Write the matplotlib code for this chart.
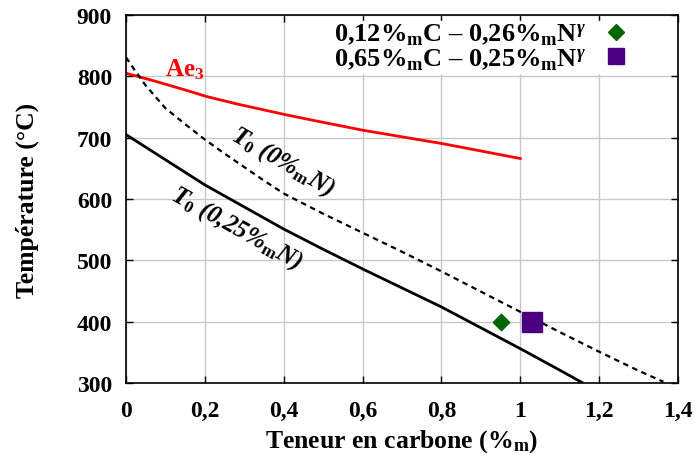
import matplotlib
matplotlib.use("Agg")
import matplotlib.pyplot as plt
from matplotlib.lines import Line2D

plt.rcParams['font.family'] = ['Liberation Serif', 'DejaVu Serif']
plt.rcParams['font.weight'] = 'bold'
plt.rcParams['mathtext.fontset'] = 'custom'
plt.rcParams['mathtext.rm'] = 'Liberation Serif:bold'
plt.rcParams['mathtext.it'] = 'Liberation Serif:bold:italic'
plt.rcParams['mathtext.bf'] = 'Liberation Serif:bold'

# Ae3 curve
ae3_x = [0.0, 0.069, 0.154, 0.205, 0.281, 0.408, 0.492, 0.602, 0.805, 1.0]
ae3_y = [805, 793, 777, 767, 755, 737, 726, 712, 690, 666]
# T0 (0 %N) dashed
t0a_x = [0.0, 0.02, 0.05, 0.1, 0.15, 0.2, 0.25, 0.3, 0.35, 0.4, 0.5, 0.6, 0.7, 0.8,
         0.9, 1.0, 1.1, 1.2, 1.3, 1.363]
t0a_y = [831, 812, 785, 748, 722, 697, 674, 652, 630, 609, 576, 545, 514, 482,
         449, 416, 383, 351, 320, 302]
# T0 (0.25 %N) solid
t0b_x = [0.0, 0.1, 0.2, 0.3, 0.4, 0.5, 0.6, 0.7, 0.8, 0.9, 1.0, 1.1, 1.156]
t0b_y = [705, 664, 623, 587, 551, 518, 486, 455, 424, 390, 356, 321, 301]

pts_x = [0.95, 1.03]
pts_y = [400, 400]
pts_labels = [r"0,12%$_{\mathrm{m}}$C – 0,26%$_{\mathrm{m}}$N$^{\gamma}$",
              r"0,65%$_{\mathrm{m}}$C – 0,25%$_{\mathrm{m}}$N$^{\gamma}$"]

xticks = [0, 0.2, 0.4, 0.6, 0.8, 1.0, 1.2, 1.4]
xtick_labels = ["0", "0,2", "0,4", "0,6", "0,8", "1", "1,2", "1,4"]
yticks = [300, 400, 500, 600, 700, 800, 900]

fig = plt.figure(figsize=(6.95, 4.6), dpi=100)
ax = fig.add_axes([126/695, 1-384/460, (678-126)/695, (384-16)/460])

ax.plot(ae3_x, ae3_y, color='#ff0000', lw=2)
ax.plot(t0a_x, t0a_y, color='black', lw=1.6, dashes=(2.5, 2))
ax.plot(t0b_x, t0b_y, color='black', lw=2)

ax.scatter([pts_x[0]], [pts_y[0]], marker='D', s=70, color='#006400', zorder=5)
ax.scatter([pts_x[1]], [pts_y[1]], marker='s', s=190, color='#4b0082', zorder=5)

ax.set_xlim(0, 1.4)
ax.set_ylim(300, 900)
ax.set_xticks(xticks)
ax.set_xticklabels(xtick_labels)
ax.set_yticks(yticks)
ax.grid(True, color='#c8c8c8', lw=1)
ax.set_axisbelow(True)
ax.tick_params(direction='in', top=True, right=True, labelsize=17, length=5, width=1)
ax.tick_params(axis='x', pad=12)
ax.tick_params(axis='y', pad=10)
for s in ax.spines.values():
    s.set_linewidth(1.2)
    s.set_zorder(10)

ax.set_xlabel(r"Teneur en carbone (%$_{\mathrm{m}}$)", fontsize=18.5, fontweight='bold', labelpad=5)
ax.set_ylabel("Température (°C)", fontsize=18.5, fontweight='bold', labelpad=27)

ax.text(0.15, 801, r"Ae$_{3}$", color='#ff0000', fontsize=18, ha='center', va='baseline')
ax.text(0.396, 662, r"T$_{\mathit{0}}$ (0%$_{\mathrm{m}}$N)", fontsize=18, ha='center', va='center',
        rotation=-30, rotation_mode='anchor', style='italic')
ax.text(0.281, 554, r"T$_{\mathit{0}}$ (0,25%$_{\mathrm{m}}$N)", fontsize=18, ha='center', va='center',
        rotation=-29, rotation_mode='anchor', style='italic')

handles = [Line2D([], [], ls='none', marker='D', color='#006400', markersize=8),
           Line2D([], [], ls='none', marker='s', color='#4b0082', markersize=12)]
leg = ax.legend(handles, pts_labels, loc='upper right', bbox_to_anchor=(0.914, 0.985),
                markerfirst=False, frameon=True,
                fontsize=19, labelspacing=-0.02, handlelength=1.0, handletextpad=0.65,
                borderaxespad=0.0, fancybox=False, framealpha=1, edgecolor='white',
                borderpad=0.05)

fig.savefig("out.png", dpi=100)
